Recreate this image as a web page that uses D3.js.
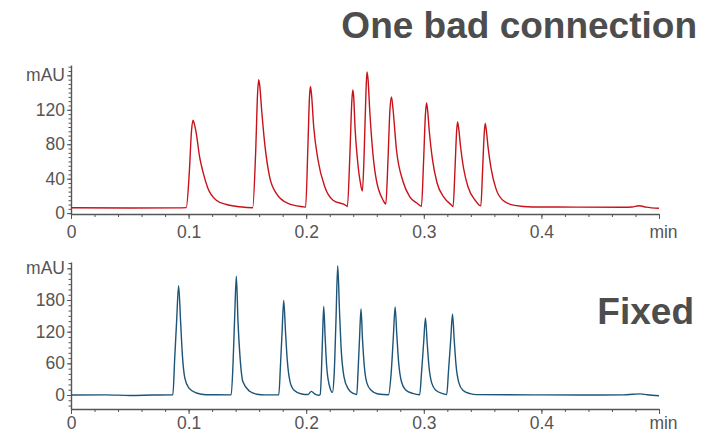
<!DOCTYPE html>
<html>
<head>
<meta charset="utf-8">
<script src="https://cdn.jsdelivr.net/npm/d3@7"></script>
<style>
  body { margin: 0; background: #fff; }
  svg { display: block; font-family: "Liberation Sans", Arial, sans-serif; }
  .axis path, .axis line { stroke: #555; }
  .axis text { fill: #555; font-size: 17.5px; }
  .title { fill: #4d4d4d; font-weight: bold; font-size: 37px; }
</style>
</head>
<body>
<svg width="718" height="434"></svg>
<script>
// x axis (minutes), shared by both traces
const xMajor = [0, 0.1, 0.2, 0.3, 0.4, 0.5];
const xLabels = ['0', '0.1', '0.2', '0.3', '0.4', 'min'];

// top trace: one bad connection (min, mAU)
const redTime = [0, 0.05, 0.09, 0.098, 0.1005, 0.1025, 0.1037, 0.105, 0.1066, 0.1094, 0.1122, 0.1164, 0.1236, 0.1321, 0.1434,
  0.1545, 0.157, 0.1587, 0.1596, 0.1605, 0.1621, 0.1647, 0.1689, 0.1746, 0.1845, 0.1973,
  0.1995, 0.2015, 0.2028, 0.2036, 0.2045, 0.2064, 0.21, 0.2157, 0.2228, 0.2342,
  0.235, 0.2372, 0.2388, 0.2396, 0.2404, 0.2415, 0.2436, 0.2461, 0.2478,
  0.2493, 0.2508, 0.2517, 0.2526, 0.254, 0.2583, 0.2654, 0.2677,
  0.2695, 0.2712, 0.2725, 0.2735, 0.2768, 0.2824, 0.2881, 0.2938, 0.298,
  0.2998, 0.3014, 0.3023, 0.3032, 0.3048, 0.3073, 0.3113, 0.3173, 0.323, 0.3249,
  0.3265, 0.3279, 0.3287, 0.3296, 0.3312, 0.3337, 0.3377, 0.3437, 0.3485,
  0.35, 0.3514, 0.3522, 0.3531, 0.3547, 0.3572, 0.3612, 0.3672, 0.3772, 0.3922, 0.43, 0.47, 0.477, 0.483, 0.489, 0.5];
const redMAU = [6.2, 6.0, 6.1, 6.4, 45, 96, 108, 103, 92, 65, 48, 29, 15, 10, 7.4,
  6.3, 70, 140, 155, 148, 120, 81, 42, 23, 11.4, 7.4,
  7, 80, 135, 147, 138, 100, 62, 31, 15, 8.6,
  7.5, 70, 130, 143, 135, 100, 62, 35, 25.7,
  70, 140, 164, 155, 120, 50, 15, 10.6,
  60, 120, 135, 125, 73, 36.5, 19, 12, 8,
  60, 115, 128, 120, 93, 63, 35, 18, 10, 7.6,
  50, 95, 106, 99, 78, 53, 30, 15, 8.4,
  50, 93, 104, 97, 76, 52, 29, 15, 9, 7.2, 7, 6.9, 7.2, 8.6, 7.0, 5.6];

// bottom trace: fixed (min, mAU)
const blueTime = [0, 0.03, 0.05, 0.07, 0.0866, 0.0882, 0.0898, 0.0915, 0.0932, 0.0947, 0.0968, 0.1003, 0.1066, 0.115, 0.1362,
  0.1378, 0.1392, 0.1406, 0.142, 0.1436, 0.1462, 0.1519, 0.158, 0.165,
  0.1767, 0.1781, 0.1795, 0.1809, 0.1824, 0.1839, 0.1862, 0.1897, 0.196, 0.2016, 0.2044, 0.2072, 0.2105,
  0.2119, 0.2129, 0.2139, 0.2149, 0.2161, 0.2174, 0.2197, 0.2223,
  0.2238, 0.2253, 0.2268, 0.2283, 0.2298, 0.2321, 0.2356, 0.24, 0.243,
  0.2442, 0.2454, 0.2466, 0.2479, 0.2494, 0.2517, 0.2552, 0.261, 0.27,
  0.2722, 0.2741, 0.2756, 0.2771, 0.2786, 0.2809, 0.2844, 0.2906,
  0.2965, 0.298, 0.2999, 0.3014, 0.3029, 0.3044, 0.3067, 0.3102, 0.3164,
  0.3195, 0.321, 0.3229, 0.3244, 0.3259, 0.3274, 0.3297, 0.3332, 0.3394, 0.345, 0.4, 0.45, 0.47, 0.478, 0.484, 0.49, 0.5];
const blueMAU = [0, 0.2, -0.8, 0, 0.3, 70, 139, 207, 139, 76, 32, 13, 3.8, 0.5, 0.3,
  60, 150, 225, 139, 76, 25, 7, 1.5, 0.3,
  0.3, 55, 120, 179, 120, 66, 26, 9, 2, 1, 6.8, 2, -0.5,
  1, 40, 110, 168, 110, 55, 18, 5,
  40, 140, 245, 160, 85, 35, 12, 3, 1,
  50, 110, 163, 105, 55, 22, 9, 2, 0.5,
  40, 110, 167, 112, 62, 26, 10, 3,
  0.5, 40, 100, 146, 98, 54, 23, 9, 2.5,
  1, 45, 105, 153, 103, 57, 24, 9, 2.5, 0.8, 0.2, 0, 0.3, 1.5, 2.2, 0.5, -1.5];

const topTicks = [0, 40, 80, 120, 160];
const topTickLabels = ['0', '40', '80', '120', 'mAU'];
const bottomTicks = [0, 60, 120, 180, 240];
const bottomTickLabels = ['0', '60', '120', '180', 'mAU'];

const svg = d3.select('svg');

const x = d3.scaleLinear().domain([0, 0.5]).range([71, 659]);

function drawPanel(p) {
	const y = d3.scaleLinear().domain(p.yDomain).range(p.yRange);
	const bottom = p.yRange[0];

	// minor x ticks
	svg.append('g')
		.attr('class', 'axis')
		.attr('transform', 'translate(0,' + bottom + ')')
		.call(d3.axisBottom(x).tickValues(d3.range(0, 0.5001, 0.02)).tickSize(3).tickSizeOuter(0).tickFormat(''))
		.call(g => g.select('.domain').remove());

	// major x ticks + labels
	const gx = svg.append('g')
		.attr('class', 'axis')
		.attr('transform', 'translate(0,' + bottom + ')')
		.call(d3.axisBottom(x).tickValues(xMajor).tickSize(5).tickSizeOuter(0)
			.tickFormat((d, i) => xLabels[i]));
	gx.select('.domain').attr('stroke-width', 1.6);
	gx.selectAll('text').attr('y', p.xLabelY).attr('dy', '0.71em');
	gx.selectAll('.tick').filter(d => d === 0.5).select('text').attr('dx', 4);

	// minor y ticks
	svg.append('g')
		.attr('class', 'axis')
		.attr('transform', 'translate(71,0)')
		.call(d3.axisLeft(y).tickValues(d3.range(p.minorFrom, p.yDomain[1], p.minorStep)).tickSize(2.5).tickSizeOuter(0).tickFormat(''))
		.call(g => g.select('.domain').attr('stroke-width', 1.4));

	// major y ticks + labels
	const gy = svg.append('g')
		.attr('class', 'axis')
		.attr('transform', 'translate(71,0)')
		.call(d3.axisLeft(y).tickValues(p.ticks).tickSize(4).tickSizeOuter(0)
			.tickFormat((d, i) => p.tickLabels[i]));
	gy.select('.domain').remove();
	gy.selectAll('text').attr('x', -6);

	const line = d3.line()
		.x((d, i) => x(p.time[i]))
		.y(d => y(d))
		.curve(d3.curveMonotoneX);

	svg.append('path')
		.datum(p.values)
		.attr('d', line)
		.attr('fill', 'none')
		.attr('stroke', p.color)
		.attr('stroke-width', 1.4);
}

drawPanel({
	yDomain: [-1, 172], yRange: [214, 65],
	minorFrom: 0, minorStep: 5,
	ticks: topTicks, tickLabels: topTickLabels,
	time: redTime, values: redMAU, color: '#c8121a',
	xLabelY: 12
});

drawPanel({
	yDomain: [-26.5, 252], yRange: [409, 262],
	minorFrom: -20, minorStep: 10,
	ticks: bottomTicks, tickLabels: bottomTickLabels,
	time: blueTime, values: blueMAU, color: '#1d5478',
	xLabelY: 8
});

svg.append('text')
	.attr('class', 'title')
	.attr('x', 697).attr('y', 38)
	.attr('text-anchor', 'end')
	.text('One bad connection');

svg.append('text')
	.attr('class', 'title')
	.attr('x', 694).attr('y', 324)
	.attr('text-anchor', 'end')
	.text('Fixed');
</script>
</body>
</html>
